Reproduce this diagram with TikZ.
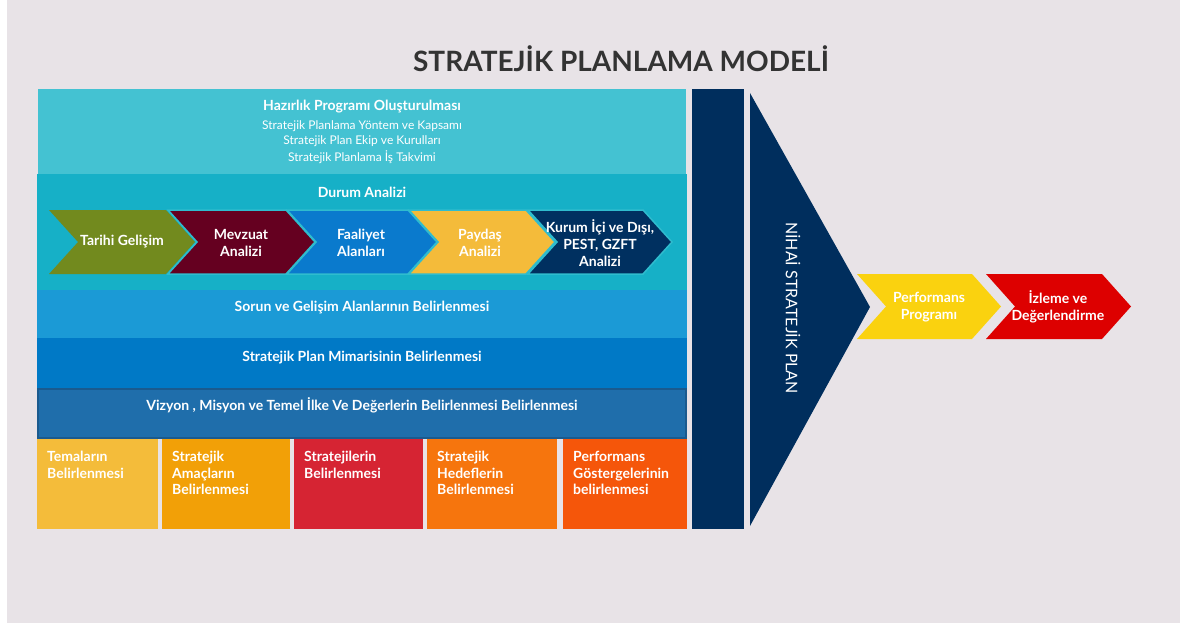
\documentclass[tikz,border=0pt]{standalone}
\usepackage{fontspec}
\setmainfont{Lato}
\definecolor{bgc}{HTML}{E8E3E7}
\definecolor{titlec}{HTML}{333333}
\definecolor{hazc}{HTML}{44C2D2}
\definecolor{durc}{HTML}{16B0C7}
\definecolor{chevline}{HTML}{2FBCCE}
\definecolor{sorc}{HTML}{1B9AD6}
\definecolor{mimc}{HTML}{0079C6}
\definecolor{vizc}{HTML}{1F6EAB}
\definecolor{vizb}{HTML}{1A5A8E}
\definecolor{chA}{HTML}{728A1E}
\definecolor{chB}{HTML}{650020}
\definecolor{chC}{HTML}{0A7ACD}
\definecolor{chD}{HTML}{F4BB3A}
\definecolor{chE}{HTML}{003060}
\definecolor{bxA}{HTML}{F4BC3A}
\definecolor{bxB}{HTML}{F2A007}
\definecolor{bxC}{HTML}{D62433}
\definecolor{bxD}{HTML}{F6750D}
\definecolor{bxE}{HTML}{F5560A}
\definecolor{navyc}{HTML}{002E5D}
\definecolor{perfc}{HTML}{FAD20F}
\definecolor{izlc}{HTML}{DD0000}
% L R top bottom style colour
\newcommand\mychev[6]{%
  \path[fill=#6,#5] (#1,#3) -- (#2,#3) -- ({#2+29},{(#3+#4)/2}) -- (#2,#4) -- (#1,#4) -- ({#1+29},{(#3+#4)/2}) -- cycle;}
\tikzset{
  band/.style={inner sep=0pt, outer sep=0pt, anchor=north west},
  bandtext/.style={text=white, font=\fontsize{14}{16}\selectfont\bfseries, anchor=base},
  subtext/.style={text=white, font=\fontsize{12}{14}\selectfont, anchor=base},
  chevtext/.style={text=white, font=\fontsize{14}{17}\selectfont\bfseries, align=center, inner sep=0pt},
  boxtext/.style={text=white, font=\fontsize{14}{16.5}\selectfont\bfseries, align=left, anchor=north west, inner sep=0pt},
  inner/.style={draw=chevline, line width=1.5pt, line join=miter},
  outer/.style={draw=none}
}
\begin{document}
\begin{tikzpicture}[x=1pt,y=-1pt]
\useasboundingbox (0,0) rectangle (1180,623);
\fill[white] (0,0) rectangle (1180,623);
\fill[bgc] (7,0) rectangle (1180,623);

\node[font=\fontsize{28}{34}\selectfont\bfseries, text=titlec, anchor=base, inner sep=0pt] (title) at (621,72) {STRATEJİK PLANLAMA MODELİ};

% bands
\node[band, fill=hazc, minimum width=648pt, minimum height=85pt] (haz) at (38,89) {};
\node[band, fill=durc, minimum width=650pt, minimum height=116pt] (dur) at (37,174) {};
\node[band, fill=sorc, minimum width=650pt, minimum height=48pt] (sor) at (37,290) {};
\node[band, fill=mimc, minimum width=650pt, minimum height=50pt] (mim) at (37,338) {};
\node[band, fill=vizc, draw=vizb, line width=2pt, minimum width=648pt, minimum height=49pt] (viz) at (38,389) {};

\node[bandtext] (hazt) at (362,111) {Hazırlık Programı Oluşturulması};
\node[subtext] (haz1) at (362,129) {Stratejik Planlama Yöntem ve Kapsamı};
\node[subtext] (haz2) at (362,145) {Stratejik Plan Ekip ve Kurulları};
\node[subtext] (haz3) at (362,161) {Stratejik Planlama İş Takvimi};
\node[bandtext] (durt) at (362,197) {Durum Analizi};
\node[bandtext] (sort) at (362,311) {Sorun ve Gelişim Alanlarının Belirlenmesi};
\node[bandtext] (mimt) at (362,361) {Stratejik Plan Mimarisinin Belirlenmesi};
\node[bandtext] (vizt) at (362,410) {Vizyon , Misyon ve Temel İlke Ve Değerlerin Belirlenmesi Belirlenmesi};

% chevrons of Durum Analizi
\mychev{49}{166}{210}{274}{outer}{chA}
\mychev{168}{286}{210}{274}{inner}{chB}
\mychev{287}{408}{210}{274}{inner}{chC}
\mychev{409}{526}{210}{274}{inner}{chD}
\mychev{528}{643}{210}{274}{inner}{chE}
\node[chevtext] (c1) at (122,242) {Tarihi Gelişim};
\node[chevtext] (c2) at (241,243) {Mevzuat\\Analizi};
\node[chevtext] (c3) at (361,243) {Faaliyet\\Alanları};
\node[chevtext] (c4) at (480,243) {Paydaş\\Analizi};
\node[chevtext] (c5) at (600,243) {Kurum İçi ve Dışı,\\PEST, GZFT\\Analizi};

% bottom boxes
\node[band, fill=bxA, minimum width=121pt, minimum height=90pt] (b1) at (37,439) {};
\node[band, fill=bxB, minimum width=128pt, minimum height=90pt] (b2) at (162,439) {};
\node[band, fill=bxC, minimum width=129pt, minimum height=90pt] (b3) at (294,439) {};
\node[band, fill=bxD, minimum width=130pt, minimum height=90pt] (b4) at (427,439) {};
\node[band, fill=bxE, minimum width=124pt, minimum height=90pt] (b5) at (563,439) {};
\node[boxtext] (b1t) at (47,451) {Temaların\\Belirlenmesi};
\node[boxtext] (b2t) at (172,451) {Stratejik\\Amaçların\\Belirlenmesi};
\node[boxtext] (b3t) at (304,451) {Stratejilerin\\Belirlenmesi};
\node[boxtext] (b4t) at (437,451) {Stratejik\\Hedeflerin\\Belirlenmesi};
\node[boxtext] (b5t) at (573,451) {Performans\\Göstergelerinin\\belirlenmesi};

% final plan
\node[band, fill=navyc, minimum width=52pt, minimum height=440pt] (col) at (692,89) {};
\fill[navyc] (750,93) -- (870,307) -- (750,526) -- cycle;
\node[text=white, font=\fontsize{16}{19}\selectfont, rotate=-90, inner sep=0pt] (nihai) at (793,308) {NİHAİ STRATEJİK PLAN};

% right chevrons
\mychev{857}{972}{274}{339}{outer}{perfc}
\mychev{986}{1102}{274}{339}{outer}{izlc}
\node[chevtext] (perf) at (929,307) {Performans\\Programı};
\node[chevtext] (izl) at (1058,307) {İzleme ve\\Değerlendirme};
\end{tikzpicture}
\end{document}
